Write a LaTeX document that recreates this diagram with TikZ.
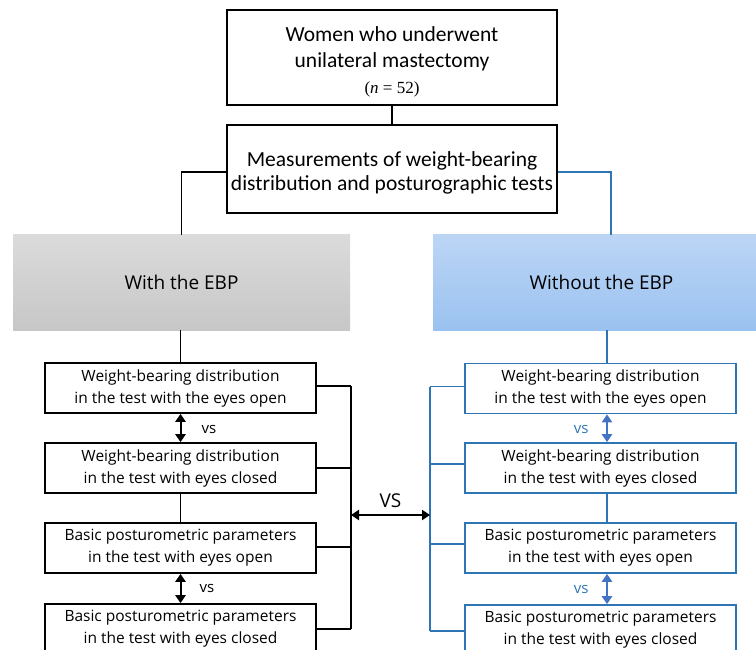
\documentclass[tikz,border=0pt]{standalone}
\usepackage{fontspec}
\setmainfont{Open Sans}
\newfontfamily\carl{Carlito}
\newfontfamily\serifn{Liberation Serif}
\usetikzlibrary{arrows.meta}
\definecolor{bl}{HTML}{2E75B6}
\definecolor{bla}{HTML}{4472C4}
\tikzset{
  topbox/.style={draw=black, line width=1.6pt, minimum width=330pt, inner sep=0pt},
  toptext/.style={align=center, font=\carl\fontsize{21.5}{26}\selectfont, inner sep=0pt},
  lbox/.style={draw=black, line width=1.6pt, minimum width=271pt, minimum height=50pt, align=center, font=\fontsize{15.5}{22}\selectfont, inner sep=0pt},
  rbox/.style={lbox, draw=bl},
  blk/.style={line width=1.4pt, black},
  blu/.style={line width=1.4pt, bl},
  dbl/.style={line width=2pt, {Triangle[length=8pt,width=10pt]}-{Triangle[length=8pt,width=10pt]}},
  vslab/.style={font=\fontsize{15}{15}\selectfont},
  grp/.style={minimum height=95pt, draw=none, font=\fontsize{19}{19}\selectfont},
}
\begin{document}
\begin{tikzpicture}[x=1pt,y=-1pt]
\useasboundingbox (0,0) rectangle (756,650);
\clip (0,0) rectangle (756,650);
% top boxes
\node[topbox, minimum height=95pt] (top) at (392,57.5) {};
\node[toptext] (toptxt) at ([yshift=-4pt]top.center) {Women who underwent\\unilateral mastectomy\\[0pt]{\serifn\fontsize{17}{17}\selectfont(\textit{n} = 52)}};
\node[topbox, minimum height=88pt] (meas) at (392,169) {};
\node[toptext, font=\carl\fontsize{21.5}{23.5}\selectfont] (meastxt) at ([yshift=-4pt]meas.center) {Measurements of weight-bearing\\distribution and posturographic tests};
% group boxes
\node[grp, minimum width=337pt, top color=black!14, bottom color=black!22] (gray) at (181.5,282.5) {With the EBP};
\node[grp, minimum width=323pt, top color={rgb,255:red,188;green,213;blue,245}, bottom color={rgb,255:red,154;green,194;blue,240}] (blue) at (594.5,282.5) {\hspace*{14pt}Without the EBP};
% left boxes
\node[lbox] (l1) at (180.5,388) {Weight-bearing distribution\\in the test with the eyes open};
\node[lbox] (l2) at (180.5,468) {Weight-bearing distribution\\in the test with eyes closed};
\node[lbox] (l3) at (180.5,548) {Basic posturometric parameters\\in the test with eyes open};
\node[lbox] (l4) at (180.5,629) {Basic posturometric parameters\\in the test with eyes closed};
% right boxes
\node[rbox] (r1) at (600.5,388.5) {Weight-bearing distribution\\in the test with the eyes open};
\node[rbox] (r2) at (600.5,468) {Weight-bearing distribution\\in the test with eyes closed};
\node[rbox] (r3) at (600.5,548) {Basic posturometric parameters\\in the test with eyes open};
\node[rbox] (r4) at (600.5,630) {Basic posturometric parameters\\in the test with eyes closed};
% columns
\coordinate (rcol) at (607,0);
\coordinate (bcol) at (611,0);
\coordinate (lbr) at (351,0);
\coordinate (rbr) at (430,0);
\coordinate (vsL) at (351,515);
\coordinate (vsR) at (430,515);
% top connectors
\draw[blk] (top.south) -- (meas.north);
\draw[blk] ([yshift=-3pt]meas.west) -| (gray.north);
\draw[blu] ([yshift=-3pt]meas.east) -| (gray.north -| bcol);
% left column
\draw[blk] (gray.south -| l1.north) -- (l1.north);
\draw[dbl] (l1.south) -- (l2.north);
\draw[blk] (l2.south) -- (l3.north);
\draw[dbl] (l3.south) -- (l4.north);
\node[vslab, anchor=west] (vs1) at (198,429) {vs};
\node[vslab, anchor=west] (vs2) at (196,588) {vs};
% right column
\draw[blu] (blue.south -| rcol) -- (r1.north -| rcol);
\draw[dbl, bla] (r1.south -| rcol) -- (r2.north -| rcol);
\draw[blu] (r2.south -| rcol) -- (r3.north -| rcol);
\draw[dbl, bla] (r3.south -| rcol) -- (r4.north -| rcol);
\node[vslab, bl, anchor=east] (vs3) at (592,429) {vs};
\node[vslab, bl, anchor=east] (vs4) at (592,589) {vs};
% left bracket
\draw[blk] ([yshift=2pt]l1.east) -- ([yshift=2pt]l1.east -| lbr);
\draw[blk] (l2.east) -- (l2.east -| lbr);
\draw[blk] ([yshift=1pt]l3.east) -- ([yshift=1pt]l3.east -| lbr);
\draw[blk] (l4.east) -- (l4.east -| lbr);
\draw[blk] ([yshift=2pt]l1.east -| lbr) -- (l4.east -| lbr);
% right bracket
\draw[blu] ([yshift=2pt]r1.west) -- ([yshift=2pt]r1.west -| rbr);
\draw[blu] ([yshift=4pt]r2.west) -- ([yshift=4pt]r2.west -| rbr);
\draw[blu] ([yshift=4pt]r3.west) -- ([yshift=4pt]r3.west -| rbr);
\draw[blu] ([yshift=-1pt]r4.west) -- ([yshift=-1pt]r4.west -| rbr);
\draw[blu] ([yshift=2pt]r1.west -| rbr) -- ([yshift=-1pt]r4.west -| rbr);
% VS arrow
\draw[dbl, line width=1.8pt] (vsL) -- (vsR) node[midway, above=3pt, font=\fontsize{19}{19}\selectfont] (vsm) {VS};
\end{tikzpicture}
\end{document}
